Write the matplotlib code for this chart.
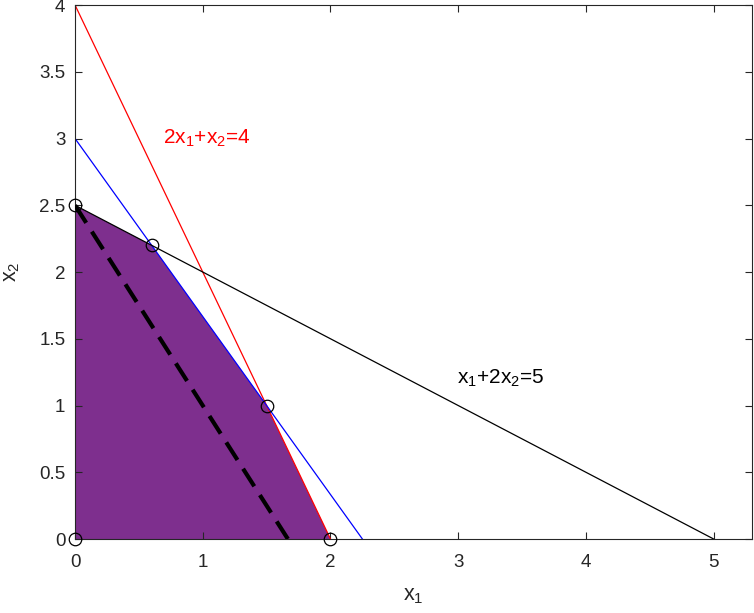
import matplotlib
matplotlib.use("Agg")
import matplotlib.pyplot as plt
import numpy as np

plt.rcParams['font.family'] = ['Liberation Sans', 'DejaVu Sans']
plt.rcParams['mathtext.fontset'] = 'custom'
plt.rcParams['mathtext.rm'] = 'Liberation Sans'

# Constraint lines (endpoints on the axes)
red_x = [0, 2]; red_y = [4, 0]          # 2x1 + x2 = 4
blue_x = [0, 2.25]; blue_y = [3, 0]     # 4x1 + 3x2 = 9
black_x = [0, 5]; black_y = [2.5, 0]    # x1 + 2x2 = 5
# Feasible region vertices
poly_x = [0, 0, 0.6, 1.5, 2]
poly_y = [0, 2.5, 2.2, 1, 0]
# Objective (dashed) line
obj_x = [0, 5/3]; obj_y = [2.5, 0]

x_ticks = [0, 1, 2, 3, 4, 5]
y_ticks = [0, 0.5, 1, 1.5, 2, 2.5, 3, 3.5, 4]
y_labels = ['0', '0.5', '1', '1.5', '2', '2.5', '3', '3.5', '4']

fig = plt.figure(figsize=(7.54, 6.13), dpi=100)
ax = fig.add_axes([0.0995, 0.1207, 0.8978, 0.8711])

ax.fill(poly_x, poly_y, color='#7E2F8E', lw=0, zorder=1)
ax.plot(red_x, red_y, color='#FF0000', lw=0.9, zorder=2)
ax.plot(blue_x, blue_y, color='#0000FF', lw=0.9, zorder=2)
ax.plot(black_x, black_y, color='black', lw=0.9, zorder=2)
ax.plot(obj_x, obj_y, color='black', lw=3, dashes=(5, 2.5), zorder=3)
ax.plot(poly_x, poly_y, linestyle='none', marker='o', markersize=9,
        markerfacecolor='none', markeredgecolor='black', markeredgewidth=0.9,
        zorder=4, clip_on=False)

ax.text(0.69, 3.0, r'$\mathregular{2x_1\text{+}x_2\text{=}4}$', color='#FF0000',
        fontsize=15, ha='left', va='center')
ax.text(2.99, 1.2, r'$\mathregular{x_1\text{+}2x_2\text{=}5}$', color='black',
        fontsize=15, ha='left', va='center')

ax.set_xlim(0, 5.3)
ax.set_ylim(0, 4)
ax.set_xticks(x_ticks)
ax.set_xticklabels([str(v) for v in x_ticks])
ax.set_yticks(y_ticks)
ax.set_yticklabels(y_labels)
ax.tick_params(direction='in', top=True, right=True, length=5, width=0.8,
               labelsize=13.5, colors='#262626')
ax.tick_params(axis='x', pad=11)
ax.tick_params(axis='y', pad=7)
for s in ax.spines.values():
    s.set_color('#262626')
    s.set_linewidth(0.8)

ax.set_xlabel(r'$\mathregular{x_1}$', fontsize=15.5, color='#262626', labelpad=10)
ax.set_ylabel(r'$\mathregular{x_2}$', fontsize=15.5, color='#262626', labelpad=12)

fig.savefig('out.png', dpi=100)
